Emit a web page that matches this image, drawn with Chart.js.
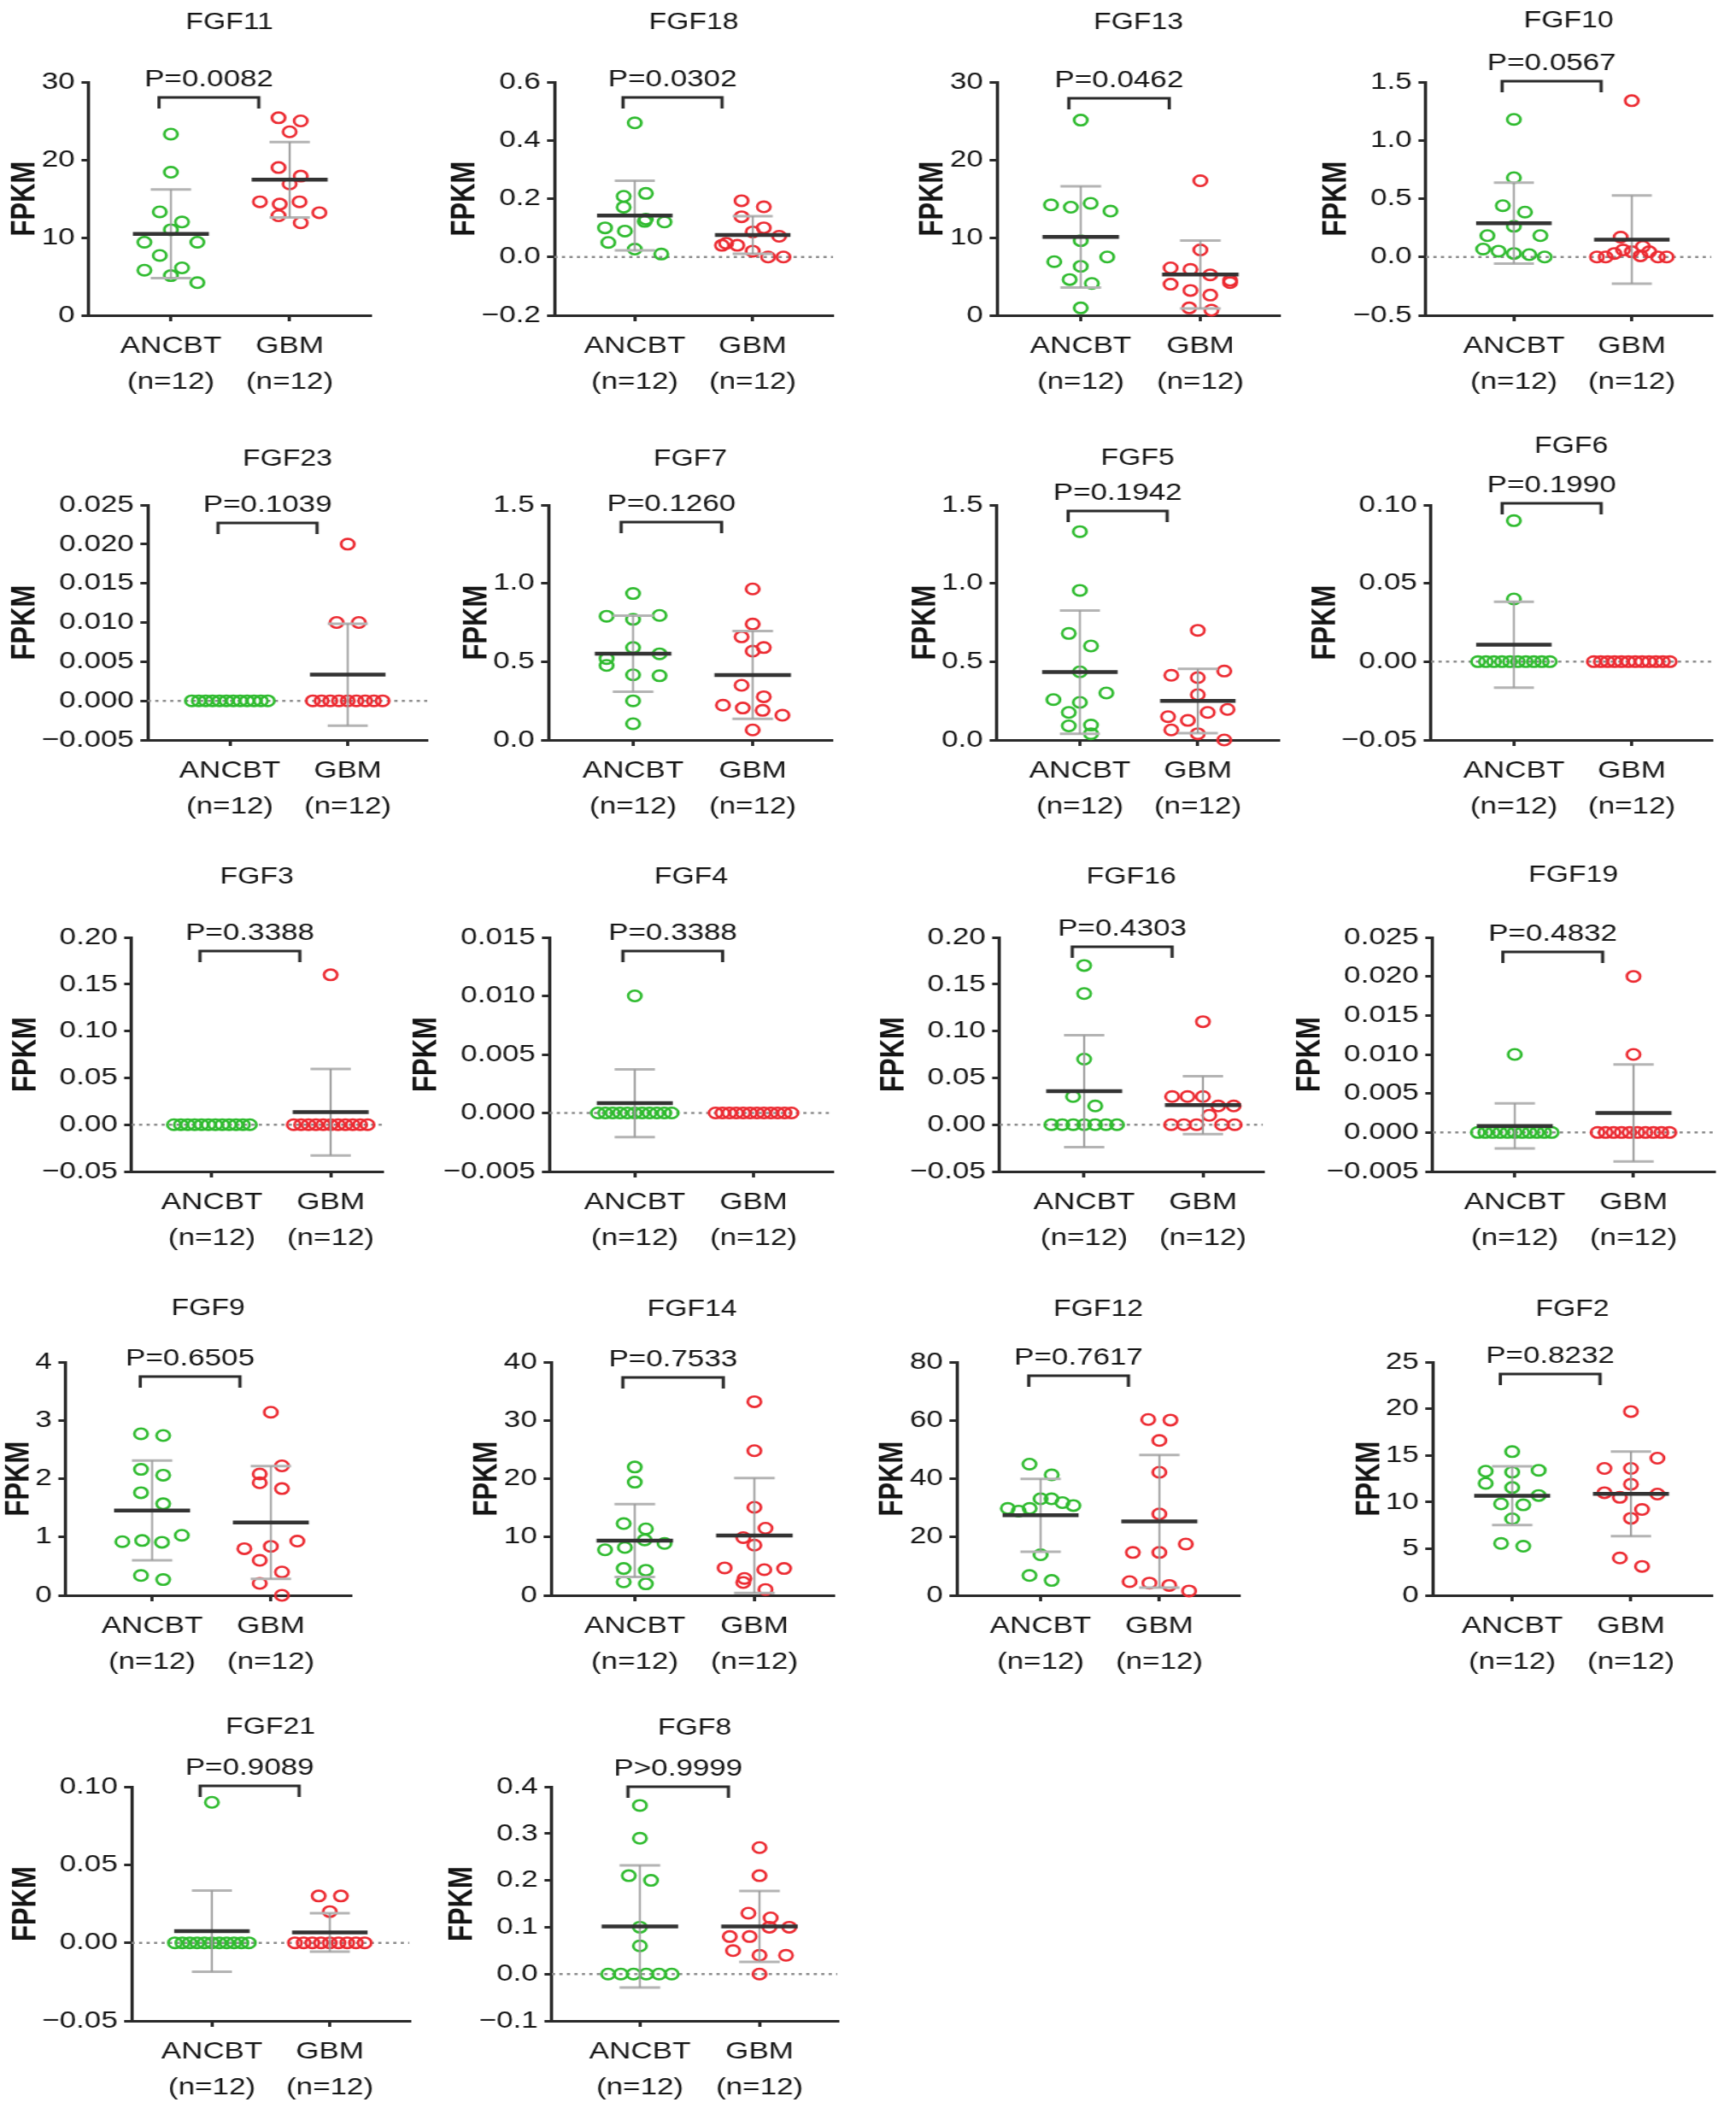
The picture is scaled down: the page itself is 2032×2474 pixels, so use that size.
<!DOCTYPE html>
<html>
<head>
<meta charset="utf-8">
<title>FGF expression, ANCBT vs GBM</title>
<script src="https://cdn.jsdelivr.net/npm/chart.js@4.4.0/dist/chart.umd.min.js"></script>
<style>
  html, body { margin: 0; padding: 0; background: #fff; }
  #wrap { position: relative; width: 2032px; height: 2474px; overflow: hidden; }
  #wrap canvas { position: absolute; }
</style>
</head>
<body>
<div id="wrap"></div>
<script>
// ---- data ----
const genes = ['FGF11', 'FGF18', 'FGF13', 'FGF10', 'FGF23', 'FGF7', 'FGF5', 'FGF6', 'FGF3',
  'FGF4', 'FGF16', 'FGF19', 'FGF9', 'FGF14', 'FGF12', 'FGF2', 'FGF21', 'FGF8'];
const pLabels = ['P=0.0082', 'P=0.0302', 'P=0.0462', 'P=0.0567', 'P=0.1039', 'P=0.1260',
  'P=0.1942', 'P=0.1990', 'P=0.3388', 'P=0.3388', 'P=0.4303', 'P=0.4832', 'P=0.6505',
  'P=0.7533', 'P=0.7617', 'P=0.8232', 'P=0.9089', 'P>0.9999'];
const groups = ['ANCBT', 'GBM'];
const groupSizes = ['(n=12)', '(n=12)'];
const yAxisTitle = 'FPKM';

const yMins = [0, -0.2, 0, -0.5, -0.005, 0, 0, -0.05, -0.05, -0.005, -0.05, -0.005, 0, 0, 0, 0, -0.05, -0.1];
const yMaxs = [30, 0.6, 30, 1.5, 0.025, 1.5, 1.5, 0.10, 0.20, 0.015, 0.20, 0.025, 4, 40, 80, 25, 0.10, 0.4];
const ySteps = [10, 0.2, 10, 0.5, 0.005, 0.5, 0.5, 0.05, 0.05, 0.005, 0.05, 0.005, 1, 10, 20, 5, 0.05, 0.1];
const yDecimals = [0, 1, 0, 1, 3, 1, 1, 2, 2, 3, 2, 3, 0, 0, 0, 0, 2, 1];

const ancbt = [
  [23.3, 18.4, 13.3, 12.0, 9.4, 11.0, 9.4, 7.7, 6.1, 5.8, 5.1, 4.2],
  [0.46, 0.208, 0.218, 0.171, 0.13, 0.10, 0.089, 0.122, 0.12, 0.05, 0.027, 0.01],
  [25.1, 14.2, 13.9, 14.4, 13.4, 9.6, 6.9, 6.3, 7.5, 4.6, 4.1, 0.95],
  [1.18, 0.68, 0.44, 0.385, 0.183, 0.263, 0.183, 0.068, 0.05, 0.03, 0.02, 0],
  [0, 0, 0, 0, 0, 0, 0, 0, 0, 0, 0, 0],
  [0.935, 0.79, 0.77, 0.795, 0.52, 0.59, 0.55, 0.476, 0.416, 0.41, 0.25, 0.104],
  [1.33, 0.955, 0.68, 0.6, 0.435, 0.258, 0.24, 0.3, 0.176, 0.095, 0.09, 0.04],
  [0.09, 0.04, 0, 0, 0, 0, 0, 0, 0, 0, 0, 0],
  [0, 0, 0, 0, 0, 0, 0, 0, 0, 0, 0, 0],
  [0.01, 0, 0, 0, 0, 0, 0, 0, 0, 0, 0, 0],
  [0.17, 0.14, 0.07, 0.03, 0.02, 0, 0, 0, 0, 0, 0, 0],
  [0.01, 0, 0, 0, 0, 0, 0, 0, 0, 0, 0, 0],
  [2.77, 2.74, 2.16, 2.06, 1.76, 1.57, 0.92, 0.94, 0.91, 1.03, 0.34, 0.27],
  [22.0, 19.4, 12.3, 11.4, 7.8, 8.2, 9.5, 8.9, 4.6, 4.3, 2.3, 1.96],
  [45.0, 41.3, 29.8, 28.9, 29.8, 33.1, 33.1, 31.8, 30.8, 13.9, 6.8, 5.1],
  [15.4, 13.3, 13.2, 13.4, 12.0, 11.55, 10.7, 9.8, 9.7, 8.2, 5.56, 5.26],
  [0.09, 0, 0, 0, 0, 0, 0, 0, 0, 0, 0, 0],
  [0.36, 0.29, 0.21, 0.2, 0.1, 0.06, 0, 0, 0, 0, 0, 0]
];
const gbm = [
  [25.4, 25.0, 23.6, 19.0, 17.9, 16.9, 14.6, 14.3, 14.6, 13.2, 12.8, 11.9],
  [0.193, 0.172, 0.138, 0.10, 0.047, 0.086, 0.071, 0.04, 0.04, 0.02, 0, 0],
  [17.3, 8.4, 6.1, 5.9, 5.2, 4.5, 4.0, 3.2, 2.6, 4.2, 0.95, 0.66],
  [1.34, 0.17, 0, 0, 0.03, 0.09, 0.06, 0.045, 0.01, 0.045, 0, 0],
  [0.02, 0.01, 0.01, 0, 0, 0, 0, 0, 0, 0, 0, 0],
  [0.964, 0.658, 0.74, 0.59, 0.567, 0.349, 0.276, 0.222, 0.204, 0.189, 0.158, 0.064],
  [0.7, 0.413, 0.398, 0.44, 0.289, 0.149, 0.125, 0.176, 0.195, 0.064, 0.04, 0],
  [0, 0, 0, 0, 0, 0, 0, 0, 0, 0, 0, 0],
  [0.16, 0, 0, 0, 0, 0, 0, 0, 0, 0, 0, 0],
  [0, 0, 0, 0, 0, 0, 0, 0, 0, 0, 0, 0],
  [0.11, 0.03, 0.03, 0.03, 0.02, 0.02, 0, 0, 0, 0.01, 0, 0],
  [0.02, 0.01, 0, 0, 0, 0, 0, 0, 0, 0, 0, 0],
  [3.14, 2.08, 2.22, 1.93, 1.83, 0.8, 0.84, 0.93, 0.6, 0.4, 0.205, 0],
  [33.2, 24.8, 15.1, 9.9, 11.5, 8.6, 4.7, 2.9, 4.4, 4.6, 2.2, 1.0],
  [60.3, 60.1, 53.1, 42.2, 27.9, 14.7, 14.7, 17.6, 4.7, 4.2, 3.4, 1.5],
  [19.7, 13.6, 13.6, 14.7, 11.0, 11.9, 10.85, 10.5, 9.2, 8.25, 4.0, 3.1],
  [0.03, 0.03, 0.02, 0, 0, 0, 0, 0, 0, 0, 0, 0],
  [0.27, 0.21, 0.13, 0.12, 0.08, 0.08, 0.1, 0.1, 0.05, 0.04, 0.04, 0]
];

// ---- layout (page pixels) ----
const rowTops = [96, 591, 1097, 1594, 2091];
const rowBottoms = [369, 866, 1371, 1867, 2365];
const axisLeft = [104, 649, 1167, 1669, 173, 642, 1167, 1675, 154, 643, 1170, 1677, 77, 645, 1120, 1677, 154, 646];
const axisRight = [433, 975, 1498, 2003, 500, 974, 1496, 2003, 447, 975, 1478, 2006, 410, 975, 1451, 2004, 479, 980];
const catLeft = [200, 743, 1265, 1772, 269, 741, 1264, 1772, 248, 743, 1269, 1773, 178, 743, 1218, 1770, 248, 749];
const catRight = [339, 881, 1405, 1910, 407, 881, 1402, 1910, 387, 882, 1408, 1912, 317, 883, 1357, 1909, 386, 889];
const titleLift = [69, 69, 69, 71, 53, 53, 54, 68, 70, 70, 70, 72, 62, 61, 61, 61, 69, 68];
const bracketDrop = [18, 18, 19, -1, 21, 20, 7, -2, 16, 16, 11, 17, 17, 18, 16, 14, -1, 0];

// the source figure is stretched sideways; draw narrow and widen with CSS
const STRETCH = 1.25;
const padL = 230, padR = 30, padT = 110, padB = 120;
const FONT = "'Liberation Sans', Arial, Helvetica, sans-serif";
const INK = '#141414';
const AXIS = '#2a2a2a';
const GREEN = '#2fbb2f';
const RED = '#ec2b32';

Chart.defaults.font.family = FONT;
Chart.defaults.color = INK;

function meanSd(vals) {
  const m = vals.reduce((a, b) => a + b, 0) / vals.length;
  const v = vals.reduce((a, b) => a + (b - m) * (b - m), 0) / (vals.length - 1);
  return [m, Math.sqrt(v)];
}

// scatter-dot spread: points that fall in the same horizontal band share a row
function swarm(vals, pxPerUnit, catPx) {
  const order = vals.map((v, i) => i).sort((a, b) => vals[b] - vals[a] || a - b);
  const off = new Array(vals.length).fill(0);
  let k = 0;
  while (k < order.length) {
    const start = vals[order[k]];
    const row = [];
    while (k < order.length && (start - vals[order[k]]) * pxPerUnit <= 15.0001) {
      row.push(order[k]);
      k++;
    }
    row.sort((a, b) => a - b);
    const n = row.length;
    const step = n === 2 ? 26 : Math.min(31, (60 + 2.4 * n) / Math.max(n - 1, 1));
    row.forEach((j, r) => { off[j] = (r - (n - 1) / 2) * step / catPx; });
  }
  return off;
}

function fmt(v, dec) {
  const s = Math.abs(v).toFixed(dec);
  return v < -1e-12 ? '\u2212' + s : s;
}

const panelText = {
  id: 'panelText',
  afterDraw(chart, args, o) {
    const { ctx, chartArea } = chart;
    const xs = chart.scales.x;
    ctx.save();
    ctx.fillStyle = INK;
    ctx.textAlign = 'center';
    ctx.textBaseline = 'middle';
    // gene name
    ctx.font = '27px ' + FONT;
    ctx.fillText(o.title, (chartArea.left + chartArea.right) / 2, chartArea.top - o.titleLift);
    // comparison bracket + P value
    const x1 = xs.getPixelForValue(-0.1);
    const x2 = xs.getPixelForValue(0.74);
    const by = chartArea.top + o.bracketDrop;
    ctx.strokeStyle = AXIS;
    ctx.lineWidth = 3;
    ctx.beginPath();
    ctx.moveTo(x1, by + 13);
    ctx.lineTo(x1, by);
    ctx.lineTo(x2, by);
    ctx.lineTo(x2, by + 13);
    ctx.stroke();
    ctx.font = '28px ' + FONT;
    ctx.fillText(o.p, (x1 + x2) / 2, by - 21);
    // y axis title next to the tick labels
    let w = 0;
    chart.scales.y.ticks.forEach(t => { w = Math.max(w, ctx.measureText(fmt(t.value, o.dec)).width); });
    const fx = chartArea.left - 13 - w - 4 - 11;
    ctx.translate(fx, (chartArea.top + chartArea.bottom) / 2);
    ctx.rotate(-Math.PI / 2);
    ctx.font = 'bold 31px ' + FONT;
    ctx.fillText(yAxisTitle, 0, 0);
    ctx.restore();
  }
};

const wrap = document.getElementById('wrap');

genes.forEach((gene, i) => {
  const row = Math.floor(i / 4);
  const top = rowTops[row];
  const plotH = rowBottoms[row] - top;
  const L = axisLeft[i], R = axisRight[i];
  const catPx = catRight[i] - catLeft[i];
  const xMin = -(catLeft[i] - L) / catPx;
  const xMax = 1 + (R - catRight[i]) / catPx;
  const pxPerUnit = plotH / (yMaxs[i] - yMins[i]);

  const pageW = padL + (R - L) + padR;
  const cw = Math.round(pageW / STRETCH);
  const sx = pageW / cw;
  const ch = padT + plotH + padB;
  const canvas = document.createElement('canvas');
  canvas.width = cw;
  canvas.height = ch;
  canvas.style.width = pageW + 'px';
  canvas.style.height = ch + 'px';
  canvas.style.left = (L - padL) + 'px';
  canvas.style.top = (top - padT) + 'px';
  wrap.appendChild(canvas);

  const datasets = [];
  if (yMins[i] < 0) {
    datasets.push({
      type: 'line', data: [{ x: xMin, y: 0 }, { x: xMax, y: 0 }],
      borderColor: '#8c8c8c', borderWidth: 2.5, borderDash: [3, 4],
      pointRadius: 0, order: 5
    });
  }
  [ancbt[i], gbm[i]].forEach((vals, g) => {
    const off = swarm(vals, pxPerUnit, catPx);
    datasets.push({
      type: 'scatter',
      data: vals.map((v, j) => ({ x: g + off[j], y: v })),
      pointStyle: 'circle', pointRadius: 6.2, pointBorderWidth: 2.6,
      borderColor: g === 0 ? GREEN : RED, backgroundColor: 'rgba(255,255,255,0)',
      pointBackgroundColor: 'rgba(255,255,255,0)',
      clip: false, order: 3
    });
    const [m, sd] = meanSd(vals);
    if (sd > 0) {
      const hi = m + sd, lo = m - sd;
      datasets.push({
        type: 'line',
        data: [{ x: g, y: hi }, { x: g, y: lo }],
        borderColor: '#9a9a9a', borderWidth: 1.8, pointRadius: 0, clip: false, order: 2
      });
      datasets.push({
        type: 'line',
        data: [{ x: g - 0.17, y: hi }, { x: g + 0.17, y: hi }, { x: g, y: null },
               { x: g - 0.17, y: lo }, { x: g + 0.17, y: lo }],
        borderColor: '#b4b4b4', borderWidth: 3, pointRadius: 0, spanGaps: false,
        clip: false, order: 2
      });
      datasets.push({
        type: 'line',
        data: [{ x: g - 0.32, y: m }, { x: g + 0.32, y: m }],
        borderColor: '#333333', borderWidth: 4.5, pointRadius: 0, clip: false, order: 1
      });
    }
  });

  new Chart(canvas, {
    type: 'scatter',
    data: { datasets },
    plugins: [panelText],
    options: {
      responsive: false,
      animation: false,
      devicePixelRatio: 1,
      layout: { padding: { top: padT, left: 0, right: padR / sx, bottom: 0 } },
      plugins: {
        legend: { display: false },
        tooltip: { enabled: false },
        panelText: { title: gene, p: pLabels[i], titleLift: titleLift[i], bracketDrop: bracketDrop[i], dec: yDecimals[i] }
      },
      scales: {
        x: {
          type: 'linear', min: xMin, max: xMax,
          afterBuildTicks: s => { s.ticks = [{ value: 0 }, { value: 1 }]; },
          afterFit: s => { s.height = padB; },
          ticks: {
            autoSkip: false, maxRotation: 0, padding: 8, color: INK,
            font: { size: 28, lineHeight: 1.5 },
            callback: v => [groups[v], groupSizes[v]]
          },
          grid: { drawOnChartArea: false, drawTicks: true, tickLength: 7, color: AXIS, lineWidth: 3 },
          border: { display: true, color: AXIS, width: 3 }
        },
        y: {
          type: 'linear', min: yMins[i], max: yMaxs[i],
          afterBuildTicks: s => {
            const n = Math.round((yMaxs[i] - yMins[i]) / ySteps[i]);
            const t = [];
            for (let k = 0; k <= n; k++) t.push({ value: +(yMins[i] + k * ySteps[i]).toFixed(6) });
            s.ticks = t;
          },
          afterFit: s => { s.width = padL / sx; },
          ticks: {
            padding: 6, color: INK, font: { size: 28 },
            callback: v => fmt(v, yDecimals[i])
          },
          grid: { drawOnChartArea: false, drawTicks: true, tickLength: 7, color: AXIS, lineWidth: 3 },
          border: { display: true, color: AXIS, width: 3 }
        }
      }
    }
  });
});
</script>
</body>
</html>
